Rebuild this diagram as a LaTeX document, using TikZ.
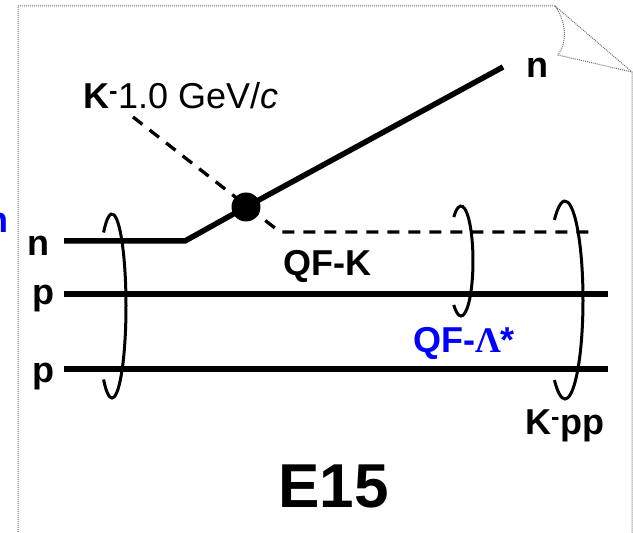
\documentclass[tikz,border=0pt]{standalone}
\usepackage{fontspec}
\setmainfont{Liberation Sans}
\newfontfamily\greekfont{Liberation Serif}
\usetikzlibrary{arrows.meta,positioning,calc}
\definecolor{ink}{HTML}{000000}
\definecolor{edge}{HTML}{6E6E6E}
\definecolor{accent}{HTML}{0000FF}
\tikzset{
  track/.style={draw=ink, line width=5.5pt},
  kaon/.style={draw=ink, line width=3.3pt, dash pattern=on 12pt off 9pt},
  ring/.style={draw=ink, line width=3pt},
  sheet/.style={draw=edge, line width=1pt, densely dotted},
  vertex/.style={circle, fill=ink, minimum size=29pt, inner sep=0pt},
  lbl/.style={inner sep=0pt, font=\fontsize{36}{40}\selectfont\bfseries}
}

\begin{document}
\begin{tikzpicture}[x=1pt, y=1pt]
  \useasboundingbox (0,0) rectangle (633,533);
  % sheet with folded corner
  \draw[sheet] (18,-5) -- (18,527) -- (555,527) -- (632,461) -- (632,-5);
  \draw[sheet] (555,527) .. controls (567,510) and (567,490) .. (558,478) -- (632,461);

  \coordinate (nin) at (64,292);
  \coordinate (kink) at (185,292);
  \coordinate (vtx) at (246,326);
  \coordinate (nout) at (503,466);
  \coordinate (p1in) at (64,239);
  \coordinate (p1out) at (608,239);
  \coordinate (p2in) at (64,164);
  \coordinate (p2out) at (608,164);
  \coordinate (kin) at (133,416);
  \coordinate (kbend) at (280,301);
  \coordinate (kend) at (595,301);

  \draw[kaon] (kin) -- (kbend) -- (kend);
  \draw[track] (nin) -- (kink) -- (vtx) -- (nout);
  \draw[track] (p1in) -- (p1out);
  \draw[track] (p2in) -- (p2out);
  \node[vertex] (blob) at (vtx) {};

  \coordinate (ringall) at (112,227);
  \coordinate (ringqf) at (461,272);
  \coordinate (ringkpp) at (565,233);
  \draw[ring] (ringall) ++(127:14 and 92) arc[start angle=127, end angle=-127, x radius=14, y radius=92];
  \draw[ring] (ringqf) ++(127:12 and 55) arc[start angle=127, end angle=-127, x radius=12, y radius=55];
  \draw[ring] (ringkpp) ++(126:18 and 99) arc[start angle=126, end angle=-126, x radius=18, y radius=99];

  \node[lbl, anchor=base east, text=accent] (cut) at (9,300) {n};
  \node[lbl, anchor=base] (nlbl) at (38,277) {n};
  \node[lbl, anchor=base] (plbl1) at (43,228) {p};
  \node[lbl, anchor=base] (plbl2) at (43,150) {p};
  \node[lbl, anchor=base] (noutlbl) at (537,455) {n};
  \node[lbl, anchor=base west] (beam) at (83,424) {K\textsuperscript{-}{\mdseries 1.0 GeV/\textit{c}}};
  \node[lbl, anchor=base west] (qfk) at (283,257) {QF-K};
  \node[lbl, anchor=base west, text=accent] (qfl) at (413,180) {QF-{\greekfont Λ}*};
  \node[lbl, anchor=base west] (kpp) at (525,98) {K\textsuperscript{-}pp};
  \node[lbl, anchor=base west, font=\fontsize{62}{70}\selectfont\bfseries] (title) at (278,25) {E15};
\end{tikzpicture}
\end{document}
